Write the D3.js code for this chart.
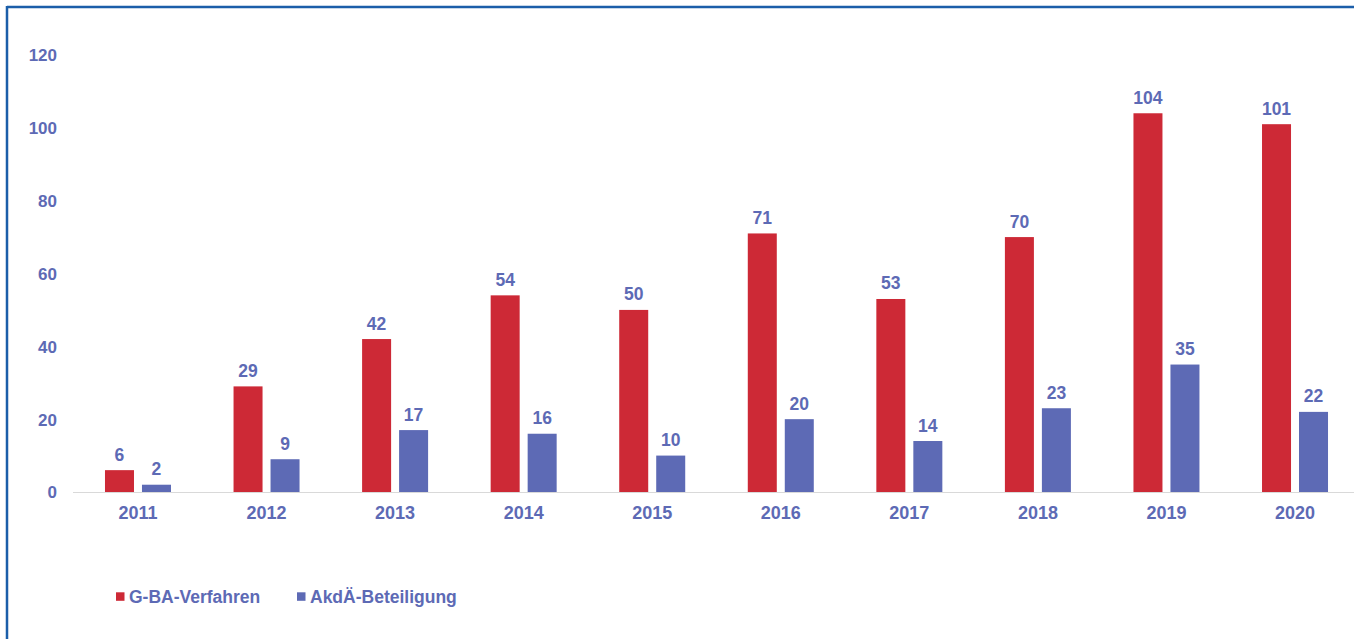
<!DOCTYPE html>
<html><head><meta charset="utf-8">
<script src="https://cdn.jsdelivr.net/npm/d3@7"></script>
<style>html,body{margin:0;padding:0;background:#fff;}svg{display:block;}</style>
</head><body>
<svg id="c" width="1354" height="639"></svg>
<script>
const years = ["2011","2012","2013","2014","2015","2016","2017","2018","2019","2020"];
const gbaValues = [6,29,42,54,50,71,53,70,104,101];
const akdaeValues = [2,9,17,16,10,20,14,23,35,22];
const yTicks = [0,20,40,60,80,100,120];
const seriesNames = ["G-BA-Verfahren","AkdÄ-Beteiligung"];
const colors = ["#CD2936","#5D6AB5"];
const textColor = "#5D6AB5";

const svg = d3.select("#c");
const font = "'Liberation Sans', Arial, sans-serif";

// border
svg.append("line").attr("x1",7).attr("x2",1354).attr("y1",7).attr("y2",7).attr("stroke","#1B5EA9").attr("stroke-width",2.5);
svg.append("line").attr("x1",7).attr("x2",7).attr("y1",6).attr("y2",639).attr("stroke","#1B5EA9").attr("stroke-width",2.5);

const x = d3.scaleBand().domain(years).range([73.7,1359.3]);
const y = d3.scaleLinear().domain([0,120]).range([492,55]);
const x1 = d3.scaleBand().domain([0,1]).range([x.bandwidth()/2-33, x.bandwidth()/2+33]).paddingInner(0.216);

// baseline
svg.append("line").attr("x1",73).attr("x2",1354).attr("y1",y(0)+0.5).attr("y2",y(0)+0.5).attr("stroke","#d9d9d9").attr("stroke-width",1);

// y axis
const yAxis = d3.axisLeft(y).tickValues(yTicks).tickSize(0).tickPadding(0);
const gy = svg.append("g").attr("transform","translate(57,0)").call(yAxis);
gy.select(".domain").remove();
gy.selectAll("text").attr("font-family",font).attr("font-size",17).attr("font-weight","bold").attr("fill",textColor).attr("dy","0.35em");

// x axis
const xAxis = d3.axisBottom(x).tickSize(0).tickPadding(0);
const gx = svg.append("g").attr("transform","translate(0,519)").call(xAxis);
gx.select(".domain").remove();
gx.selectAll("text").attr("font-family",font).attr("font-size",18).attr("font-weight","bold").attr("fill",textColor).attr("y",0).attr("dy","0");

const series = [gbaValues, akdaeValues];
series.forEach((vals,si)=>{
  const g = svg.append("g");
  g.selectAll("rect").data(vals).join("rect")
    .attr("x",(d,i)=>x(years[i])+x1(si))
    .attr("width",x1.bandwidth())
    .attr("y",d=>y(d))
    .attr("height",d=>y(0)-y(d))
    .attr("fill",colors[si]);
  g.selectAll("text").data(vals).join("text")
    .attr("x",(d,i)=>x(years[i])+x1(si)+x1.bandwidth()/2)
    .attr("y",d=>y(d)-9.5)
    .attr("text-anchor","middle")
    .attr("font-family",font).attr("font-size",17.5).attr("font-weight","bold")
    .attr("fill",textColor)
    .text(d=>d);
});

// legend
const legX = [116,297];
seriesNames.forEach((n,i)=>{
  svg.append("rect").attr("x",legX[i]).attr("y",592.3).attr("width",8.5).attr("height",8.5).attr("fill",colors[i]);
  svg.append("text").attr("x",legX[i]+13).attr("y",603).attr("font-family",font).attr("font-size",17.5).attr("font-weight","bold").attr("fill",textColor).text(n);
});
</script>
</body></html>
